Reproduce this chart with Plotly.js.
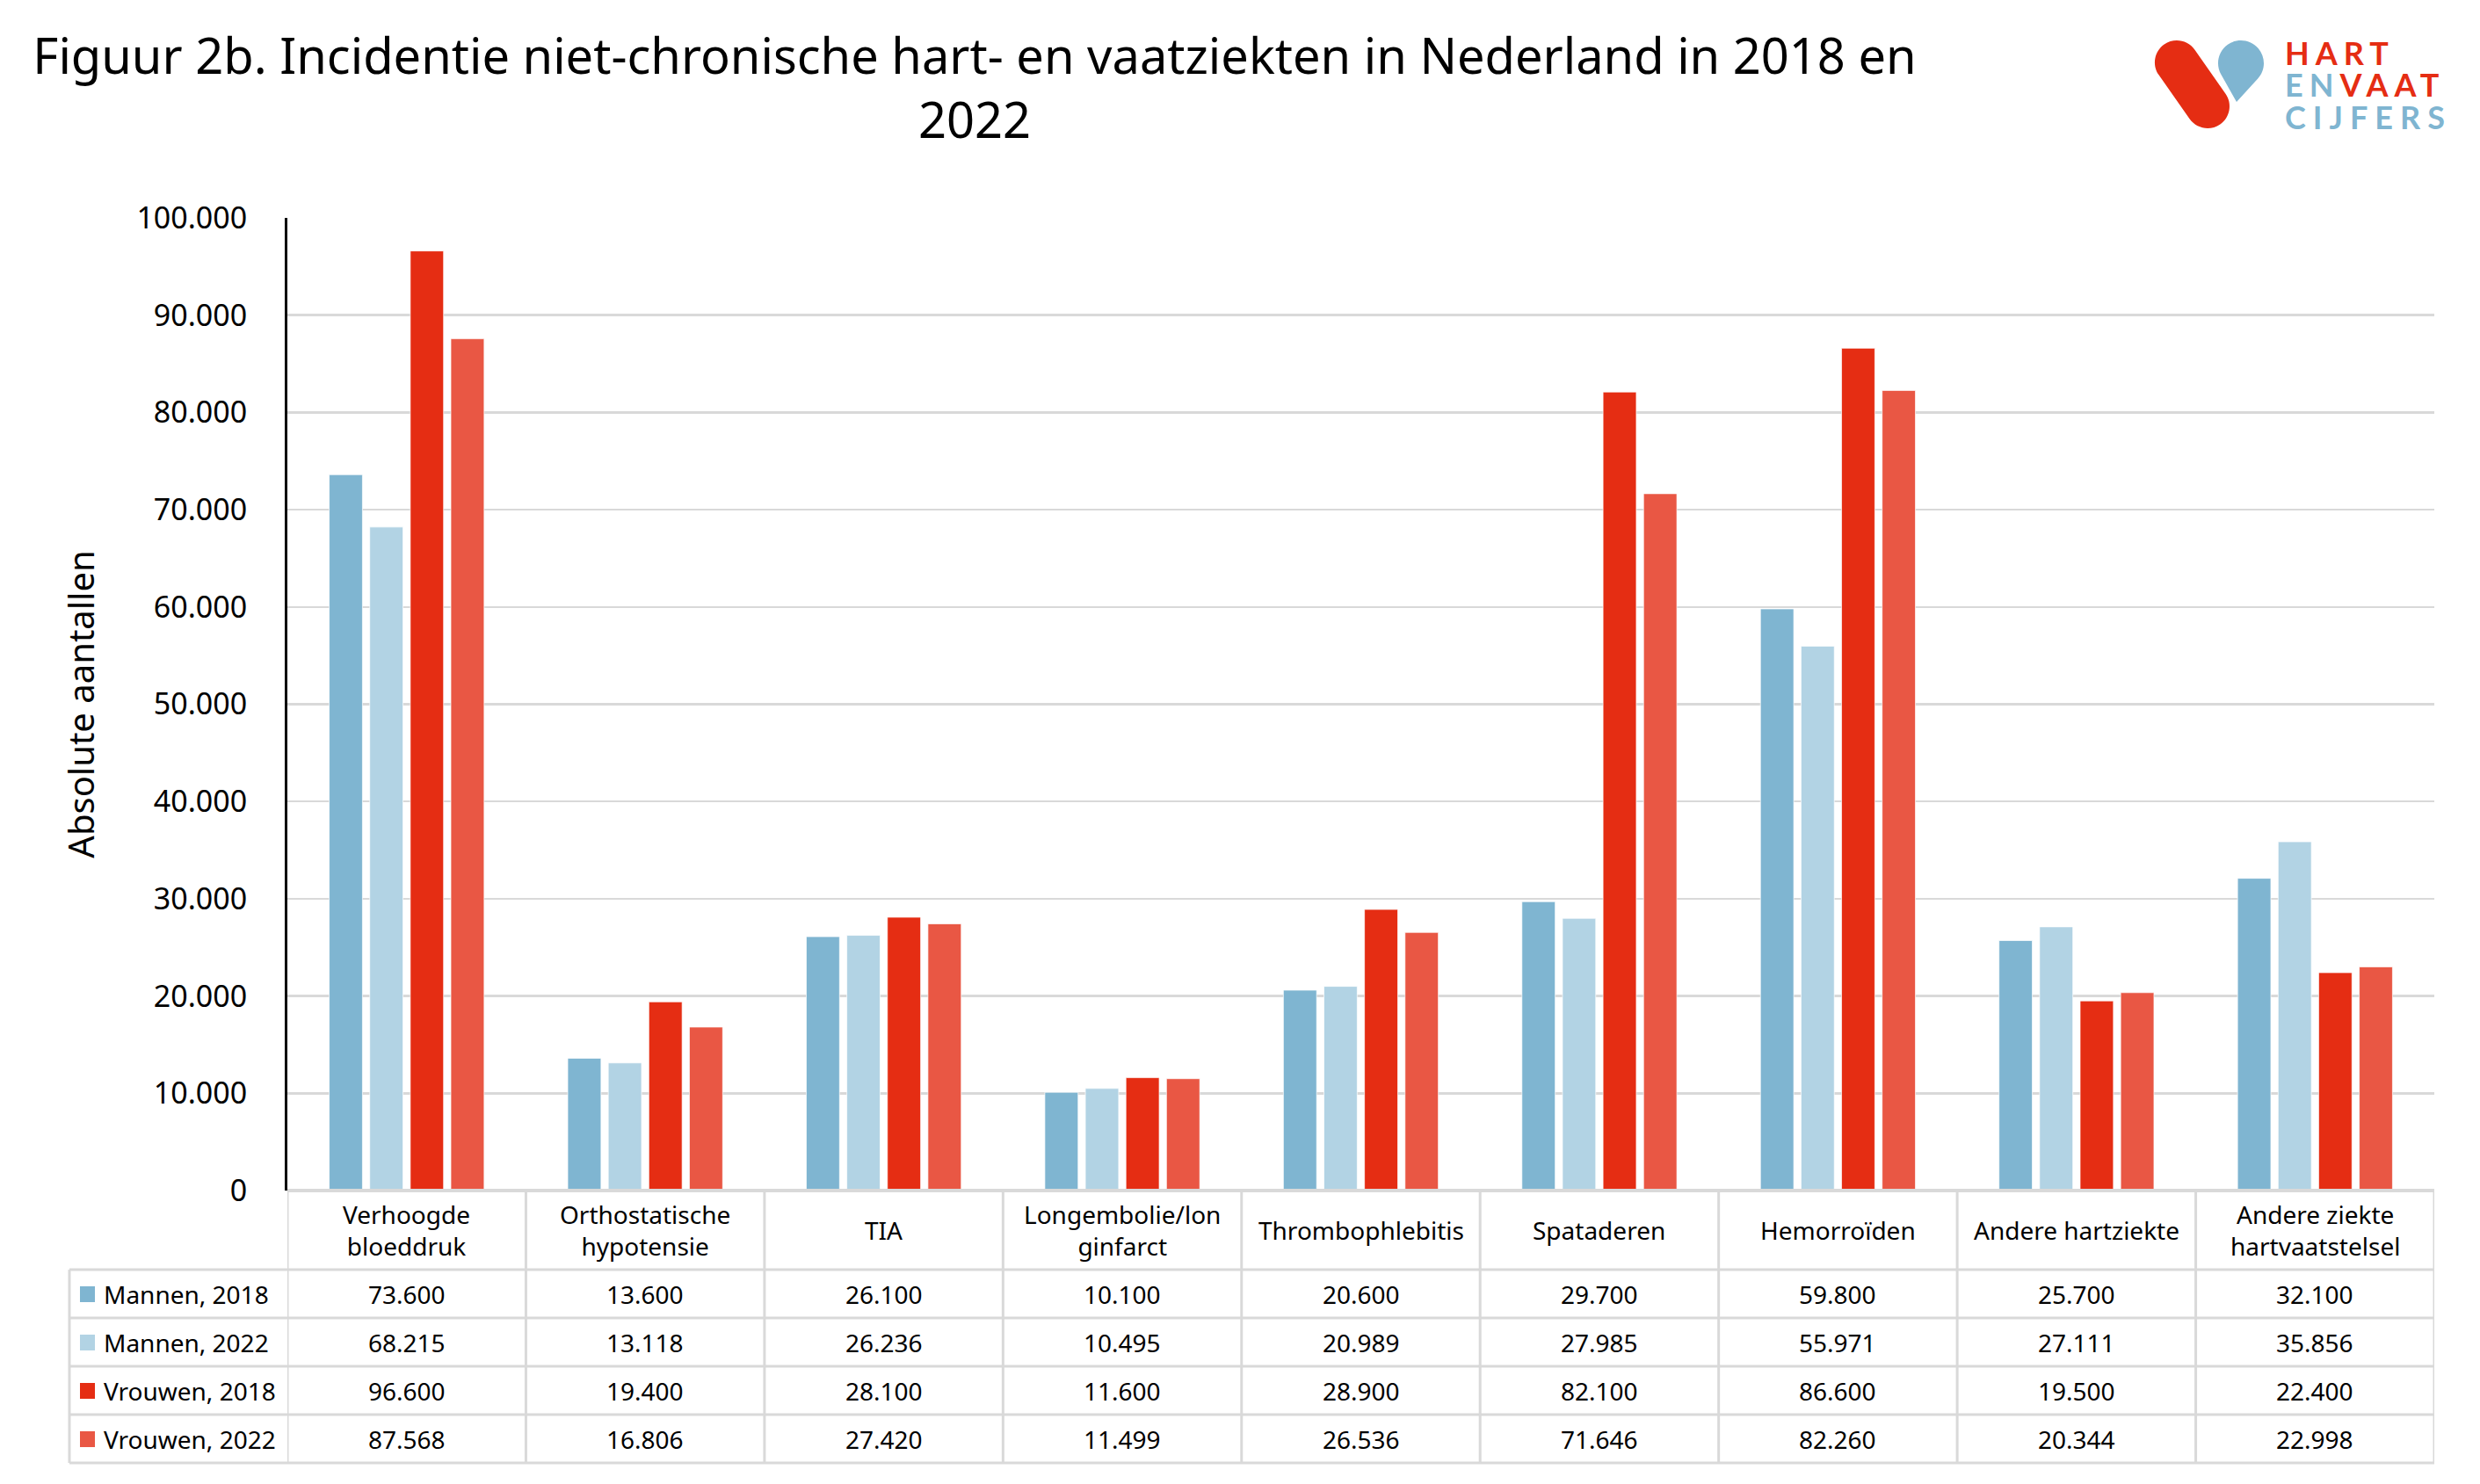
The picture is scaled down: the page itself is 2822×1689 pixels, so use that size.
<!DOCTYPE html>
<html>
<head>
<meta charset="utf-8">
<script src="https://cdn.plot.ly/plotly-3.0.1.min.js"></script>
<style>html,body{margin:0;padding:0;background:#fff;}</style>
</head>
<body>
<div id="chart" style="width:2822px;height:1689px;"></div>
<script>
// ---- Data ----
const categories = ['Verhoogde<br>bloeddruk', 'Orthostatische<br>hypotensie', 'TIA', 'Longembolie/lon<br>ginfarct', 'Thrombophlebitis', 'Spataderen', 'Hemorroïden', 'Andere hartziekte', 'Andere ziekte<br>hartvaatstelsel'];
const seriesNames = ['Mannen, 2018', 'Mannen, 2022', 'Vrouwen, 2018', 'Vrouwen, 2022'];
const mannen2018 = [73600, 13600, 26100, 10100, 20600, 29700, 59800, 25700, 32100];
const mannen2022 = [68215, 13118, 26236, 10495, 20989, 27985, 55971, 27111, 35856];
const vrouwen2018 = [96600, 19400, 28100, 11600, 28900, 82100, 86600, 19500, 22400];
const vrouwen2022 = [87568, 16806, 27420, 11499, 26536, 71646, 82260, 20344, 22998];
const yTickVals = [0, 10000, 20000, 30000, 40000, 50000, 60000, 70000, 80000, 90000, 100000];
const titleText = 'Figuur 2b. Incidentie niet-chronische hart- en vaatziekten in Nederland in 2018 en<br>2022';
const yTitle = 'Absolute aantallen';

// ---- Styles ----
const seriesValues = [mannen2018, mannen2022, vrouwen2018, vrouwen2022];
const colors = ['#7FB5D1', '#B2D3E4', '#E52D13', '#E95744'];
const FONT = 'Noto Sans, Open Sans, sans-serif';
const GRID = '#D9D9D9';

// geometry (pixels)
const W = 2822, H = 1689;
const L = 327, R = 2770, T = 248, B = 1355;
const PW = R - L, PH = B - T;
const xp = px => (px - L) / PW;
const yp = py => (B - py) / PH;

const fmt = v => String(v).replace(/\B(?=(\d{3})+(?!\d))/g, '.');

const traces = seriesNames.map((name, i) => ({
  type: 'bar',
  name: name,
  x: categories,
  y: seriesValues[i],
  marker: {color: colors[i], line: {color: 'rgba(255,255,255,0.7)', width: 1}},
  hoverinfo: 'x+y+name'
}));

const shapes = [];
const annotations = [];

// table lines
const rowLines = [1445, 1500, 1555, 1610, 1665];
shapes.push({type: 'line', xref: 'paper', yref: 'paper', x0: 0, x1: 1, y0: yp(B), y1: yp(B), line: {color: GRID, width: 4}});
rowLines.forEach(py => shapes.push({type: 'line', xref: 'paper', yref: 'paper', x0: xp(79), x1: 1, y0: yp(py), y1: yp(py), line: {color: GRID, width: 3}}));
for (let i = 0; i <= categories.length; i++) {
  shapes.push({type: 'line', xref: 'x', yref: 'paper', x0: i - 0.5, x1: i - 0.5, y0: yp(B), y1: yp(1665), line: {color: GRID, width: 3}});
}
shapes.push({type: 'line', xref: 'paper', yref: 'paper', x0: xp(79), x1: xp(79), y0: yp(1445), y1: yp(1665), line: {color: GRID, width: 3}});

// header labels
categories.forEach(c => annotations.push({xref: 'x', yref: 'paper', x: c, y: yp(1400), text: c, showarrow: false, xanchor: 'center', yanchor: 'middle', font: {family: FONT, size: 28, color: '#000'}}));

// rows
const rowCenters = [1473, 1528, 1583, 1638];
seriesNames.forEach((name, r) => {
  const yc = yp(rowCenters[r]);
  shapes.push({type: 'rect', xref: 'paper', yref: 'paper', x0: xp(91), x1: xp(108), y0: yp(rowCenters[r] + 9), y1: yp(rowCenters[r] - 9), fillcolor: colors[r], line: {width: 0}});
  annotations.push({xref: 'paper', yref: 'paper', x: xp(116), y: yc, text: name, showarrow: false, xanchor: 'left', yanchor: 'middle', font: {family: FONT, size: 28, color: '#000'}});
  seriesValues[r].forEach((v, i) => annotations.push({xref: 'x', yref: 'paper', x: categories[i], y: yc, text: fmt(v), showarrow: false, xanchor: 'center', yanchor: 'middle', font: {family: FONT, size: 28, color: '#000'}}));
});

// ---- Logo ----
function P(x, y) { return xp(x).toFixed(5) + ',' + yp(y).toFixed(5); }
function arcSegs(cx, cy, r, a1, a2) {
  let out = '';
  const n = Math.ceil(Math.abs(a2 - a1) / (Math.PI / 2));
  const d = (a2 - a1) / n;
  const k = 4 / 3 * Math.tan(d / 4);
  for (let i = 0; i < n; i++) {
    const t1 = a1 + i * d, t2 = t1 + d;
    const p0x = cx + r * Math.cos(t1), p0y = cy + r * Math.sin(t1);
    const p3x = cx + r * Math.cos(t2), p3y = cy + r * Math.sin(t2);
    const c1x = p0x - k * r * Math.sin(t1), c1y = p0y + k * r * Math.cos(t1);
    const c2x = p3x + k * r * Math.sin(t2), c2y = p3y - k * r * Math.cos(t2);
    out += ' C ' + P(c1x, c1y) + ' ' + P(c2x, c2y) + ' ' + P(p3x, p3y);
  }
  return out;
}
// red pill
(function () {
  const x1 = 2477, y1 = 71, x2 = 2512, y2 = 121, r = 25;
  const a = Math.atan2(y2 - y1, x2 - x1);
  const an = a - Math.PI / 2;
  let path = 'M ' + P(x1 + r * Math.cos(an), y1 + r * Math.sin(an));
  path += ' L ' + P(x2 + r * Math.cos(an), y2 + r * Math.sin(an));
  path += arcSegs(x2, y2, r, an, an + Math.PI);
  path += ' L ' + P(x1 + r * Math.cos(an + Math.PI), y1 + r * Math.sin(an + Math.PI));
  path += arcSegs(x1, y1, r, an + Math.PI, an + 2 * Math.PI);
  path += ' Z';
  shapes.push({type: 'path', xref: 'paper', yref: 'paper', path: path, fillcolor: '#E52D13', line: {width: 0}});
})();
// blue drop
(function () {
  const cx = 2550, cy = 72, r = 26, tx = 2545, ty = 116;
  const d = Math.hypot(tx - cx, ty - cy);
  const at = Math.atan2(ty - cy, tx - cx);
  const al = Math.acos(r / d);
  const s = at + al, e = at - al + 2 * Math.PI;
  let path = 'M ' + P(tx, ty) + ' L ' + P(cx + r * Math.cos(s), cy + r * Math.sin(s));
  path += arcSegs(cx, cy, r, s, e);
  path += ' Z';
  shapes.push({type: 'path', xref: 'paper', yref: 'paper', path: path, fillcolor: '#7FB5D1', line: {width: 0}});
})();
const logoFont = {family: 'Lato, Noto Sans, sans-serif', size: 36, weight: 700};
annotations.push({xref: 'paper', yref: 'paper', x: xp(2598), y: yp(60), text: '<span style="letter-spacing:7px">HART</span>', showarrow: false, xanchor: 'left', yanchor: 'middle', font: Object.assign({color: '#E52D13'}, logoFont)});
annotations.push({xref: 'paper', yref: 'paper', x: xp(2598), y: yp(96), text: '<span style="letter-spacing:7px"><span style="color:#7FB5D1">EN</span><span style="color:#E52D13">VAAT</span></span>', showarrow: false, xanchor: 'left', yanchor: 'middle', font: Object.assign({color: '#E52D13'}, logoFont)});
annotations.push({xref: 'paper', yref: 'paper', x: xp(2598), y: yp(133), text: '<span style="letter-spacing:8px">CIJFERS</span>', showarrow: false, xanchor: 'left', yanchor: 'middle', font: Object.assign({color: '#7FB5D1'}, logoFont)});

const layout = {
  width: W, height: H, autosize: false,
  margin: {l: L, r: W - R, t: T, b: H - B, pad: 0},
  paper_bgcolor: '#fff', plot_bgcolor: '#fff',
  separators: ',.',
  showlegend: false,
  barmode: 'group', bargap: 0.32, bargroupgap: 0.18,
  title: {text: titleText, x: 1109 / W, xref: 'container', xanchor: 'center', y: 1 - 84 / H, yref: 'container', yanchor: 'top', font: {family: FONT, size: 56, color: '#000'}},
  xaxis: {type: 'category', range: [-0.5, categories.length - 0.5], showticklabels: false, ticks: '', showgrid: false, zeroline: false, showline: false, fixedrange: true},
  yaxis: {range: [0, 100000], tickvals: yTickVals, tickformat: ',d', showgrid: true, gridcolor: GRID, gridwidth: 2.5, zeroline: false, showline: true, linecolor: '#000', linewidth: 3, ticks: '', ticklabelstandoff: 36, tickfont: {family: FONT, size: 34, color: '#000'},
    title: {text: yTitle, standoff: 36, font: {family: FONT, size: 40, color: '#000'}}},
  shapes: shapes,
  annotations: annotations
};

Plotly.newPlot('chart', traces, layout, {displayModeBar: false, staticPlot: true});
</script>
</body>
</html>
